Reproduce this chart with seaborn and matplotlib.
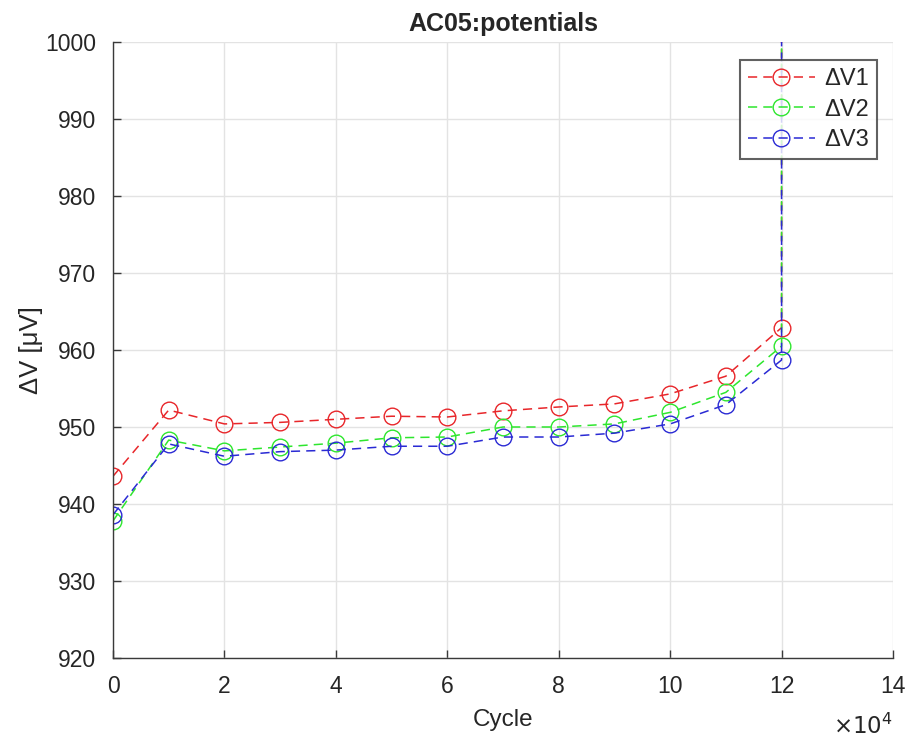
import numpy as np
import pandas as pd
import matplotlib
matplotlib.use("Agg")
import matplotlib.pyplot as plt
from matplotlib.ticker import FuncFormatter, MultipleLocator
import seaborn as sns

# Cycle counts; the last sample sits at the end cycle with a runaway reading
cycles = [0, 10000, 20000, 30000, 40000, 50000, 60000, 70000, 80000, 90000,
          100000, 110000, 120000, 120000]
dv1 = [943.6, 952.2, 950.4, 950.6, 951.0, 951.4, 951.3, 952.1, 952.6, 953.0,
       954.3, 956.6, 962.9, 1200.0]
dv2 = [937.8, 948.3, 946.9, 947.4, 947.9, 948.6, 948.7, 950.0, 950.0, 950.4,
       951.9, 954.5, 960.5, 1200.0]
dv3 = [938.6, 947.8, 946.2, 946.8, 947.0, 947.5, 947.5, 948.7, 948.7, 949.2,
       950.4, 952.9, 958.7, 1200.0]
series_names = ["ΔV1", "ΔV2", "ΔV3"]
colors = ["#e8262a", "#2ee62e", "#2a2ad4"]

frames = []
for name, vals in zip(series_names, [dv1, dv2, dv3]):
    frames.append(pd.DataFrame({"Cycle": cycles, "dV": vals, "series": name}))
df = pd.concat(frames, ignore_index=True)

sns.set_theme(style="whitegrid")
plt.rcParams["font.family"] = ["Liberation Sans", "DejaVu Sans"]

fig = plt.figure(figsize=(9.1, 7.38), dpi=100)
ax = fig.add_axes([113 / 910, 80 / 738, 780 / 910, 616 / 738])

sns.lineplot(data=df, x="Cycle", y="dV", hue="series", palette=colors,
             estimator=None, sort=False, units="series", ax=ax,
             linestyle=(0, (6, 4)), linewidth=1.1, marker="o", markersize=12,
             markerfacecolor="none", markeredgewidth=1.0)
for line, c in zip(ax.get_lines(), colors):
    line.set_markeredgecolor(c)

ax.set_xlim(0, 140000)
ax.set_ylim(920, 1000)
ax.xaxis.set_major_locator(MultipleLocator(20000))
ax.yaxis.set_major_locator(MultipleLocator(10))
ax.xaxis.set_major_formatter(FuncFormatter(lambda v, p: f"{v / 1e4:g}"))

ax.set_facecolor("white")
ax.grid(True, color="#e3e3e3", linewidth=1.0)
for side in ["top", "right"]:
    ax.spines[side].set_visible(False)
for side in ["left", "bottom"]:
    ax.spines[side].set_color("#3a3a3a")
    ax.spines[side].set_linewidth(1.0)
ax.tick_params(axis="both", direction="in", length=6, width=1.0,
               color="#3a3a3a", labelsize=16.5, labelcolor="#262626",
               left=True, bottom=True)
ax.tick_params(axis="x", pad=12)
ax.tick_params(axis="y", pad=12)

ax.set_xlabel("Cycle", fontsize=17.5, color="#262626", labelpad=8)
ax.set_ylabel("ΔV [μV]", fontsize=18.5, color="#262626", labelpad=2)
ax.set_title("AC05:potentials", fontsize=18, fontweight="bold", pad=8)
ax.text(1.0, -0.09, r"$\times10^{4}$", transform=ax.transAxes,
        ha="right", va="top", fontsize=16.5, color="#262626")

handles, labels = ax.get_legend_handles_labels()
for h, c in zip(handles, colors):
    h.set_markerfacecolor("none")
    h.set_markeredgecolor(c)
    h.set_markersize(12)
leg = ax.legend(handles, labels, loc="upper right",
                bbox_to_anchor=(764 / 780, 598 / 616), borderaxespad=0,
                fontsize=17, frameon=True, fancybox=False,
                edgecolor="#3a3a3a", handlelength=2.8, handletextpad=0.4,
                borderpad=0.35, labelspacing=0.35)
leg.get_frame().set_linewidth(1.5)

fig.savefig("out.png", dpi=100, facecolor="white")
